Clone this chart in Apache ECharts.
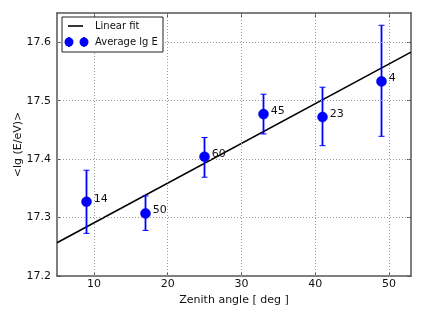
<!DOCTYPE html>
<html><head><meta charset="utf-8">
<script src="https://cdn.jsdelivr.net/npm/echarts@6/dist/echarts.min.js"></script>
<style>html,body{margin:0;padding:0;background:#fff}#c{width:424px;height:318px}</style>
</head><body><div id="c"></div>
<script>
const zenith = [9, 17, 25, 33, 41, 49];
const meanLgE = [17.327, 17.307, 17.404, 17.477, 17.472, 17.533];
const errLow = [17.273, 17.278, 17.369, 17.443, 17.423, 17.439];
const errHigh = [17.381, 17.337, 17.437, 17.511, 17.523, 17.629];
const pointLabels = ['14', '50', '60', '45', '23', '4'];
const fitX = [5, 53];
const fitY = [17.257, 17.583];
const xTicks = [10, 20, 30, 40, 50];
const yTicks = [17.2, 17.3, 17.4, 17.5, 17.6];

const FONT = 'DejaVu Sans';
const chart = echarts.init(document.getElementById('c'), null, {renderer: 'canvas'});
const axisCommon = {
  axisLine: {show: true, lineStyle: {color: '#555', width: 1.5}},
  axisTick: {show: true, inside: true, length: 4, lineStyle: {color: '#555'}},
  axisLabel: {fontFamily: FONT, fontSize: 11, color: '#111'},
};
chart.setOption({
  animation: false,
  grid: {left: 57, right: 13, top: 13, bottom: 42, show: false, containLabel: false, outerBoundsMode: 'none'},
  xAxis: [{
    type: 'value', min: 5, max: 53, position: 'bottom',
    ...axisCommon,
    axisTick: {...axisCommon.axisTick, customValues: xTicks},
    axisLabel: {...axisCommon.axisLabel, customValues: xTicks, margin: 3},
    splitLine: {show: false},
    name: 'Zenith angle [ deg ]', nameLocation: 'middle', nameGap: 18,
    nameTextStyle: {fontFamily: FONT, fontSize: 11, color: '#111'}
  }, {
    type: 'value', min: 5, max: 53, position: 'top',
    ...axisCommon,
    axisTick: {...axisCommon.axisTick, customValues: xTicks},
    axisLabel: {show: false}, splitLine: {show: false}
  }],
  yAxis: [{
    type: 'value', min: 17.2, max: 17.65, position: 'left',
    ...axisCommon,
    axisTick: {...axisCommon.axisTick, customValues: yTicks},
    axisLabel: {...axisCommon.axisLabel, customValues: yTicks, margin: 6, formatter: v => v.toFixed(1)},
    splitLine: {show: false},
    name: '<lg (E/eV)>', nameLocation: 'middle', nameGap: 33, nameRotate: 90, nameMoveOverlap: false,
    nameTextStyle: {fontFamily: FONT, fontSize: 11, color: '#111'}
  }, {
    type: 'value', min: 17.2, max: 17.65, position: 'right',
    ...axisCommon,
    axisTick: {...axisCommon.axisTick, customValues: yTicks},
    axisLabel: {show: false}, splitLine: {show: false}
  }],
  series: [
    {
      type: 'line', data: [], silent: true,
      markLine: {
        symbol: 'none', silent: true, label: {show: false},
        lineStyle: {color: '#999', type: [1, 2], width: 1},
        data: xTicks.map(v => ({xAxis: v})).concat(yTicks.slice(1).map(v => ({yAxis: v})))
      }
    },
    {
      type: 'line', data: fitX.map((x, i) => [x, fitY[i]]), symbol: 'none',
      lineStyle: {color: '#000', width: 1.6}, z: 3
    },
    {
      type: 'custom', z: 4,
      data: zenith.map((x, i) => [x, errLow[i], errHigh[i]]),
      renderItem: (params, api) => {
        const lo = api.coord([api.value(0), api.value(1)]);
        const hi = api.coord([api.value(0), api.value(2)]);
        const cw = 3;
        const st = {stroke: '#0000ff', lineWidth: 1.8};
        return {type: 'group', children: [
          {type: 'line', shape: {x1: lo[0], y1: lo[1], x2: hi[0], y2: hi[1]}, style: st},
          {type: 'line', shape: {x1: lo[0]-cw, y1: lo[1], x2: lo[0]+cw, y2: lo[1]}, style: {stroke: '#0000ff', lineWidth: 1}},
          {type: 'line', shape: {x1: hi[0]-cw, y1: hi[1], x2: hi[0]+cw, y2: hi[1]}, style: {stroke: '#0000ff', lineWidth: 1}}
        ]};
      }
    },
    {
      type: 'scatter', z: 5, symbolSize: 10,
      itemStyle: {color: '#0000ff', opacity: 1, borderColor: '#0000cc', borderWidth: 0.5},
      data: zenith.map((x, i) => ({value: [x, meanLgE[i]], label: {formatter: pointLabels[i]}})),
      label: {show: true, position: 'right', distance: 2, offset: [0, -3],
        fontFamily: FONT, fontSize: 11, color: '#111'}
    }
  ],
  graphic: [
    {type: 'rect', shape: {x: 62, y: 17, width: 101, height: 35},
      style: {fill: '#fff', stroke: '#222', lineWidth: 1}, z: 10},
    {type: 'line', shape: {x1: 68, y1: 26, x2: 83, y2: 26}, style: {stroke: '#000', lineWidth: 1.6}, z: 11},
    {type: 'text', x: 95, y: 26, style: {text: 'Linear fit', fontFamily: FONT, fontSize: 10, fill: '#111', verticalAlign: 'middle'}, z: 11},
    {type: 'line', shape: {x1: 69, y1: 37, x2: 69, y2: 47}, style: {stroke: '#0000ff', lineWidth: 1.8}, z: 11},
    {type: 'line', shape: {x1: 84, y1: 37, x2: 84, y2: 47}, style: {stroke: '#0000ff', lineWidth: 1.8}, z: 11},
    {type: 'circle', shape: {cx: 69, cy: 42, r: 4.5}, style: {fill: '#0000ff'}, z: 12},
    {type: 'circle', shape: {cx: 84, cy: 42, r: 4.5}, style: {fill: '#0000ff'}, z: 12},
    {type: 'text', x: 95, y: 42, style: {text: 'Average lg E', fontFamily: FONT, fontSize: 10, fill: '#111', verticalAlign: 'middle'}, z: 11}
  ]
});
</script></body></html>
